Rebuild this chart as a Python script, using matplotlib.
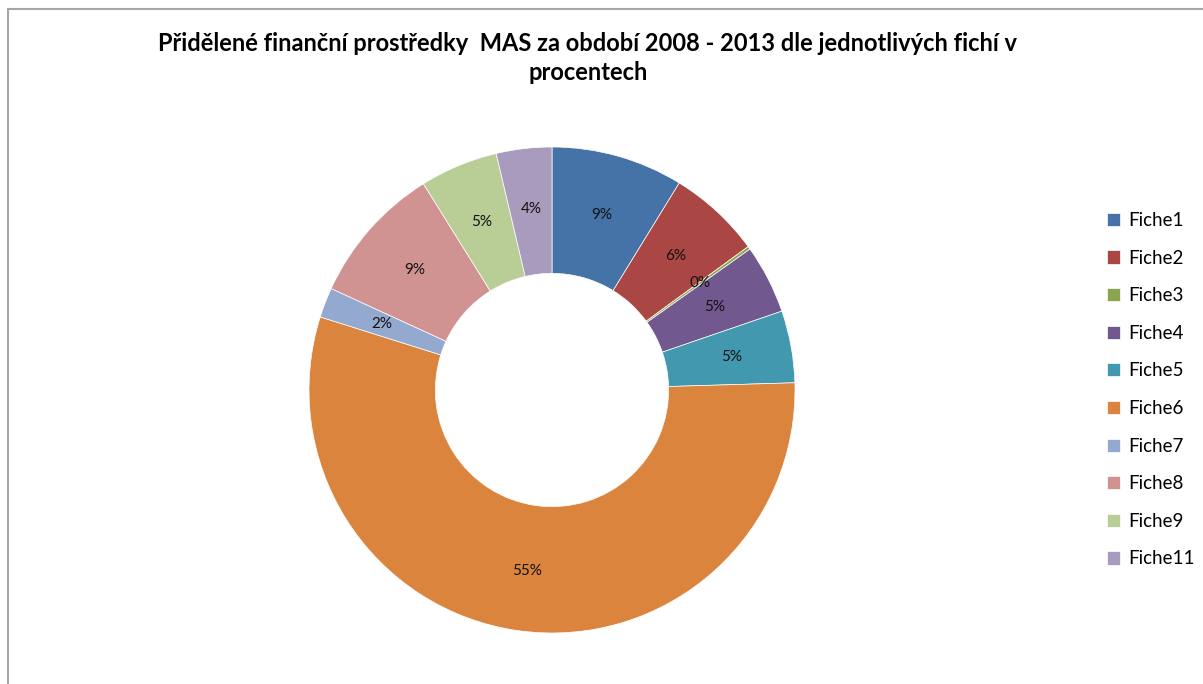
import matplotlib
matplotlib.use("Agg")
import matplotlib.pyplot as plt
from matplotlib.patches import Rectangle

categories = ["Fiche1", "Fiche2", "Fiche3", "Fiche4", "Fiche5",
              "Fiche6", "Fiche7", "Fiche8", "Fiche9", "Fiche11"]
values = [8.8, 6.2, 0.2, 4.6, 4.8, 55.5, 2.0, 9.3, 5.2, 3.7]
colors = ["#4572A7", "#AA4643", "#89A54E", "#71588F", "#4198AF",
          "#DB843D", "#93A9CF", "#D19392", "#B9CD96", "#A99BBD"]
title = "Přidělené finanční prostředky  MAS za období 2008 - 2013 dle jednotlivých fichí v\nprocentech"

W, H = 1203, 684
fig = plt.figure(figsize=(W / 100, H / 100), dpi=100)
fig.patch.set_facecolor("white")

# outer frame
fig.add_artist(Rectangle((8 / W, -0.1), 1.2, (H - 9) / H + 0.1, transform=fig.transFigure,
                         fill=False, edgecolor="#A6A6A6", linewidth=1.5))

cx, cy, r = 552, 390, 243
ax = fig.add_axes([(cx - r) / W, (H - cy - r) / H, 2 * r / W, 2 * r / H])
wedges, texts, autotexts = ax.pie(
    values, colors=colors, startangle=90, counterclock=False, radius=1,
    wedgeprops=dict(width=0.52, edgecolor="white", linewidth=0.5),
    autopct="%.0f%%", pctdistance=0.75,
    textprops=dict(fontsize=11, color="#111111", family="Lato"))
ax.set_xlim(-1, 1)
ax.set_ylim(-1, 1)
ax.set_aspect("equal")
ax.axis("off")

fig.text(588 / W, 1 - 58 / H, title, ha="center", va="center",
         fontsize=17, fontweight="bold", family="Lato", linespacing=1.3)

fig.legend(wedges, categories, loc="upper left",
           bbox_to_anchor=(1090 / W, 1 - 195 / H), frameon=False,
           handlelength=0.7, handleheight=0.7, handletextpad=0.45,
           labelspacing=1.1, prop=dict(family="Lato", size=13.5))

fig.savefig("out.png", dpi=100)
